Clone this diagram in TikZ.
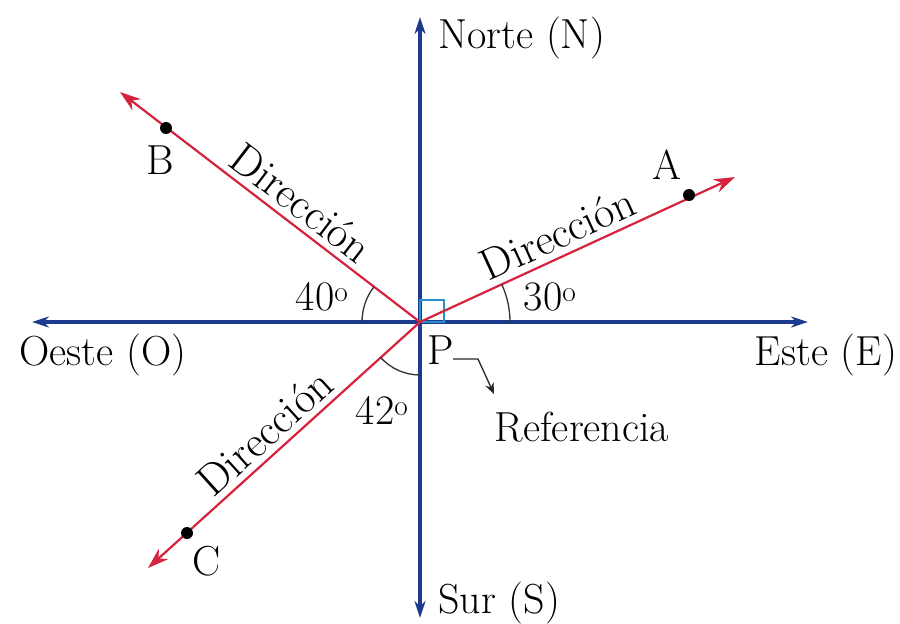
\documentclass[tikz,border=0pt]{standalone}
\usetikzlibrary{arrows.meta}
\definecolor{axisblue}{HTML}{1C3A8E}
\definecolor{rayred}{HTML}{D6223F}
\definecolor{sqblue}{HTML}{2A8FD0}
\begin{document}
\begin{tikzpicture}[x=1pt,y=-1pt,
  axis/.style={axisblue,line width=3.2pt,-{Stealth[length=17pt,width=11pt]}},
  ray/.style={rayred,line width=2.2pt,-{Stealth[length=21pt,width=14pt]}},
  lbl/.style={font=\fontsize{42}{46}\selectfont,inner sep=0pt},
  dir/.style={font=\fontsize{44}{48}\selectfont,inner sep=0pt,anchor=south},
  dot/.style={circle,fill=black,inner sep=0pt,minimum size=12pt},
  anglearc/.style={black!80,line width=1.3pt}]
\useasboundingbox (0,0) rectangle (900,624);
\coordinate (P) at (420,322);
\coordinate (Ntip) at (420,17);
\coordinate (Stip) at (420,618);
\coordinate (Wtip) at (32,322);
\coordinate (Etip) at (808,322);
\coordinate (Btip) at (120,92);
\coordinate (Atip) at (735,177);
\coordinate (Ctip) at (148,568);
% axes
\draw[axis] (P) -- (Ntip);
\draw[axis] (P) -- (Stip);
\draw[axis] (P) -- (Wtip);
\draw[axis] (P) -- (Etip);
% right angle
\draw[sqblue,line width=1.5pt] (P) rectangle ++(24,-22);
% rays
\draw[ray] (P) -- (Btip);
\draw[ray] (P) -- (Atip);
\draw[ray] (P) -- (Ctip);
% arcs
\draw[anglearc] (P) ++(180:58) arc[start angle=180,end angle=217.5,radius=58];
\draw[anglearc] (P) ++(0:90) arc[start angle=0,end angle=-24.7,radius=90];
\draw[anglearc] (P) ++(90:53) arc[start angle=90,end angle=137.9,radius=53];
% dots
\node[dot] (B) at (166,128) {};
\node[dot] (A) at (689,195) {};
\node[dot] (C) at (187,533) {};
% labels
\node[lbl,anchor=west] (north) at (438,38) {Norte (N)};
\node[lbl,anchor=west] (south) at (438,603) {Sur (S)};
\node[lbl] (west) at (103,355) {Oeste (O)};
\node[lbl] (east) at (826,355) {Este (E)};
\node[lbl] (Plab) at (441,350) {P};
\node[lbl] (ref) at (582,427) {Referencia};
\node[lbl] (Blab) at (160,160) {B};
\node[lbl] (Alab) at (667,165) {A};
\node[lbl] (Clab) at (207,561) {C};
\node[lbl] (a40) at (322,297) {40\textsuperscript{o}};
\node[lbl] (a30) at (550,297) {30\textsuperscript{o}};
\node[lbl] (a42) at (382,410) {42\textsuperscript{o}};
\node[dir,rotate=-37.5] (dirB) at (292,215) {Dirección};
\node[dir,rotate=24.7] (dirA) at (564,248) {Dirección};
\node[dir,rotate=42.1] (dirC) at (275,444) {Dirección};
% reference pointer
\coordinate (r1) at (453,359);
\coordinate (r2) at (478,359);
\coordinate (r3) at (494,394);
\draw[black!85,line width=1.3pt,-{Stealth[length=11pt,width=9pt]}] (r1) -- (r2) -- (r3);
\end{tikzpicture}
\end{document}
